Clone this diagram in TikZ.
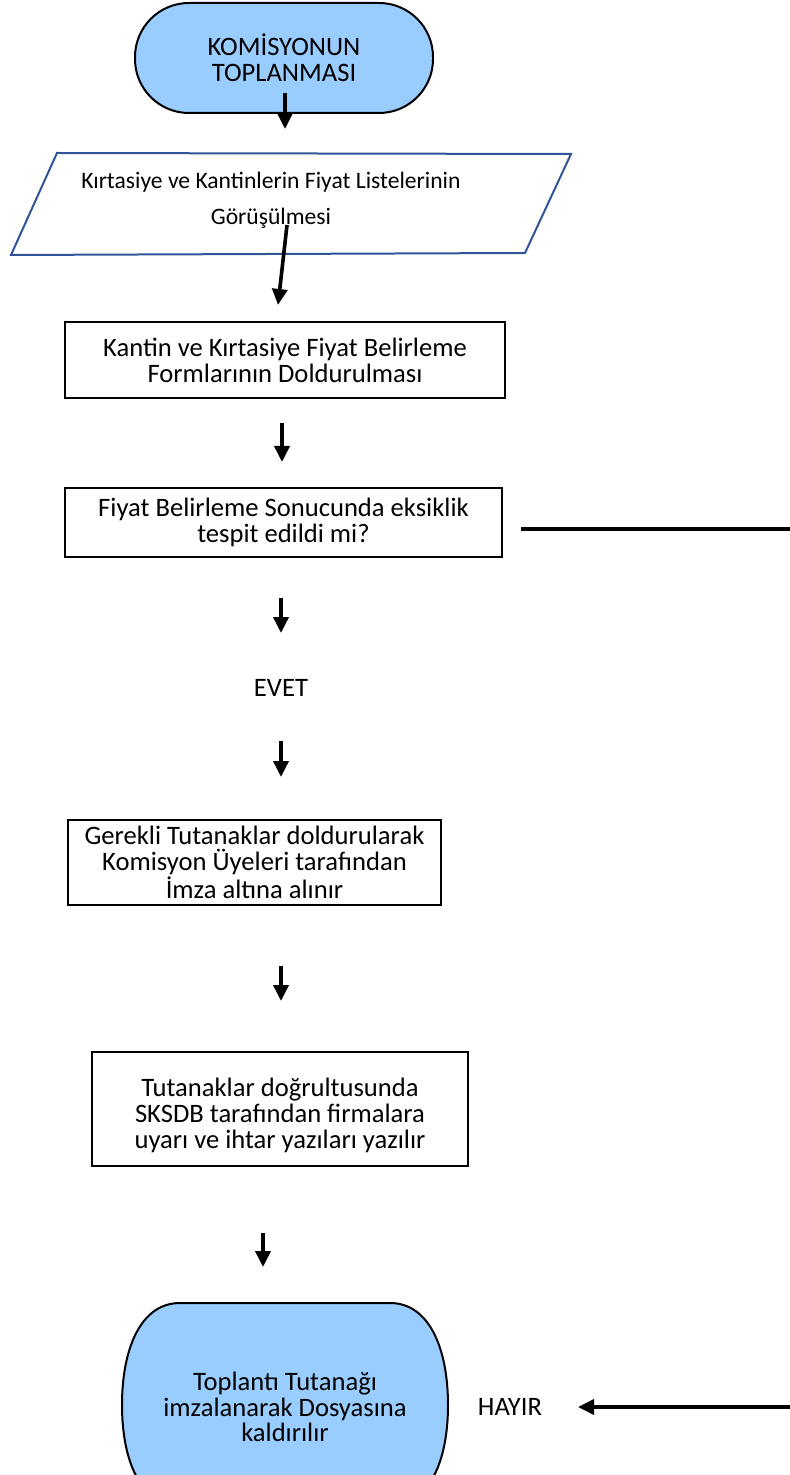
\documentclass[tikz,border=0pt]{standalone}
\usepackage{fontspec}
\setmainfont{Carlito}
\usetikzlibrary{arrows.meta}
\definecolor{termblue}{RGB}{153,204,255}
\definecolor{parblue}{RGB}{47,85,151}
\begin{document}
\begin{tikzpicture}[x=0.5pt,y=-0.5pt,
  txt/.style={font=\fontsize{13.3}{12.9}\selectfont, align=center, inner sep=0pt},
  arr/.style={line width=1.8pt, -{Triangle[length=8pt,width=7.5pt]}},
  plain/.style={line width=1.6pt},
  procbox/.style={txt, draw=black, line width=1.2pt},
  term/.style={txt, draw=black, line width=1pt, fill=termblue}]
\useasboundingbox (0,0) rectangle (790,1475);

% top terminal
\node[term, rounded corners=27pt, minimum width=149pt, minimum height=55pt] (start) at (284,58) {KOMİSYONUN\\TOPLANMASI};

% parallelogram
\draw[parblue, line width=1pt] (57,153) -- (571,154) -- (525,253) -- (11,255) -- cycle;
\node[txt, font=\fontsize{11.8}{18}\selectfont] (io) at (271,200) {Kırtasiye ve Kantinlerin Fiyat Listelerinin\\Görüşülmesi};

% process boxes
\node[procbox, minimum width=220pt, minimum height=38pt] (b1) at (285,360) {Kantin ve Kırtasiye Fiyat Belirleme\\Formlarının Doldurulması};
\node[procbox, minimum width=218.5pt, minimum height=34.5pt] (b2) at (283.5,522.5) {Fiyat Belirleme Sonucunda eksiklik\\tespit edildi mi?};
\node[txt] (evet) at (281,688) {EVET};
\node[procbox, minimum width=186.5pt, minimum height=42.5pt] (b3) at (254.5,862.5) {Gerekli Tutanaklar doldurularak\\Komisyon Üyeleri tarafından\\İmza altına alınır};
\node[procbox, minimum width=188pt, minimum height=57pt] (b4) at (280,1109) {\rule{0pt}{15.5pt}Tutanaklar doğrultusunda\\SKSDB tarafından firmalara\\uyarı ve ihtar yazıları yazılır};

% bottom terminal
\draw[fill=termblue, line width=1pt] (180,1303) -- (390,1303)
  .. controls (430,1303) and (448,1350) .. (448,1405)
  .. controls (448,1460) and (430,1505) .. (390,1505)
  -- (180,1505)
  .. controls (140,1505) and (122,1460) .. (122,1405)
  .. controls (122,1350) and (140,1303) .. (180,1303) -- cycle;
\node[txt] (end) at (285,1407) {Toplantı Tutanağı\\imzalanarak Dosyasına\\kaldırılır};
\node[txt] (hayir) at (510,1407) {HAYIR};

% connector end points
\coordinate (a1s) at (285,93);   \coordinate (a1e) at (285,129);
\coordinate (a2s) at (287,225);  \coordinate (a2e) at (278,305);
\coordinate (a3s) at (282,423);  \coordinate (a3e) at (282,462);
\coordinate (a4s) at (281,598);  \coordinate (a4e) at (281,633);
\coordinate (a5s) at (281,741);  \coordinate (a5e) at (281,777);
\coordinate (a6s) at (281,966);  \coordinate (a6e) at (281,1001);
\coordinate (a7s) at (263,1233); \coordinate (a7e) at (263,1267);
\coordinate (ls) at (521,529);   \coordinate (le) at (790,529);
\coordinate (hs) at (790,1407);  \coordinate (he) at (578,1407);

\draw[arr] (a1s) -- (a1e);
\draw[arr] (a2s) -- (a2e);
\draw[arr] (a3s) -- (a3e);
\draw[arr] (a4s) -- (a4e);
\draw[arr] (a5s) -- (a5e);
\draw[arr] (a6s) -- (a6e);
\draw[arr] (a7s) -- (a7e);
\draw[plain] (ls) -- (le);
\draw[arr] (hs) -- (he);
\end{tikzpicture}
\end{document}
